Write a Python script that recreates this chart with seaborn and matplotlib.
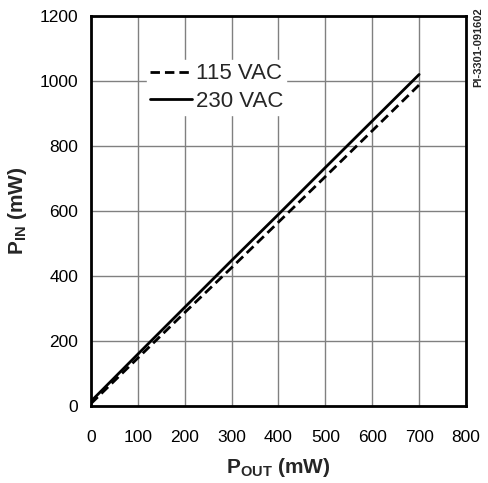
import pandas as pd
import matplotlib
matplotlib.use("Agg")
import matplotlib.pyplot as plt
import seaborn as sns

# values
p_out = [0, 100, 200, 300, 400, 500, 600, 700]
p_in_115 = [8, 148, 288, 426, 566, 706, 847, 988]
p_in_230 = [15, 160, 304, 448, 590, 734, 877, 1020]
series_names = ["115 VAC", "230 VAC"]

x_ticks = [0, 100, 200, 300, 400, 500, 600, 700, 800]
y_ticks = [0, 200, 400, 600, 800, 1000, 1200]

sns.set_theme(style="white")
plt.rcParams["font.family"] = ["Liberation Sans", "DejaVu Sans"]
plt.rcParams["mathtext.fontset"] = "custom"
plt.rcParams["mathtext.rm"] = "Liberation Sans"
plt.rcParams["mathtext.bf"] = "Liberation Sans:bold"

df = pd.DataFrame({
    "pout": p_out * 2,
    "pin": p_in_115 + p_in_230,
    "supply": [series_names[0]] * len(p_out) + [series_names[1]] * len(p_out),
})

fig = plt.figure(figsize=(4.89, 4.83), dpi=100)
ax = fig.add_axes([0.186, 0.159, 0.767, 0.808])

sns.lineplot(data=df, x="pout", y="pin", style="supply", color="black",
             dashes={"115 VAC": (3.4, 1.8), "230 VAC": ""},
             linewidth=2.0, ax=ax, legend=True)

ax.set_xlim(0, 800)
ax.set_ylim(0, 1200)
ax.set_xticks(x_ticks)
ax.set_yticks(y_ticks)
ax.tick_params(axis="x", length=0, labelsize=12.5, colors="black", pad=17)
ax.tick_params(axis="y", length=0, labelsize=12.5, colors="black", pad=9)
ax.grid(True, color="#808080", linewidth=1.0)
for s in ax.spines.values():
    s.set_visible(True)
    s.set_color("black")
    s.set_linewidth(2.0)

ax.set_xlabel(r"$\mathbf{P_{OUT}}$ (mW)", fontsize=15, fontweight="bold", labelpad=8)
ax.set_ylabel(r"$\mathbf{P_{IN}}$ (mW)", fontsize=15, fontweight="bold", labelpad=8)

leg = ax.legend(loc="upper left", bbox_to_anchor=(0.149, 0.887), frameon=True,
                fontsize=16, handlelength=1.9, handletextpad=0.15,
                borderpad=0.15, labelspacing=0.3, borderaxespad=0, title=None)
leg.get_frame().set_edgecolor("white")
leg.get_frame().set_facecolor("white")
leg.get_frame().set_alpha(1.0)
leg.get_frame().set_boxstyle("square", pad=0)

fig.text(0.977, 0.985, "PI-3301-091602", rotation=90, fontsize=8,
         fontweight="bold", ha="center", va="top")

fig.savefig("out.png", dpi=100)
